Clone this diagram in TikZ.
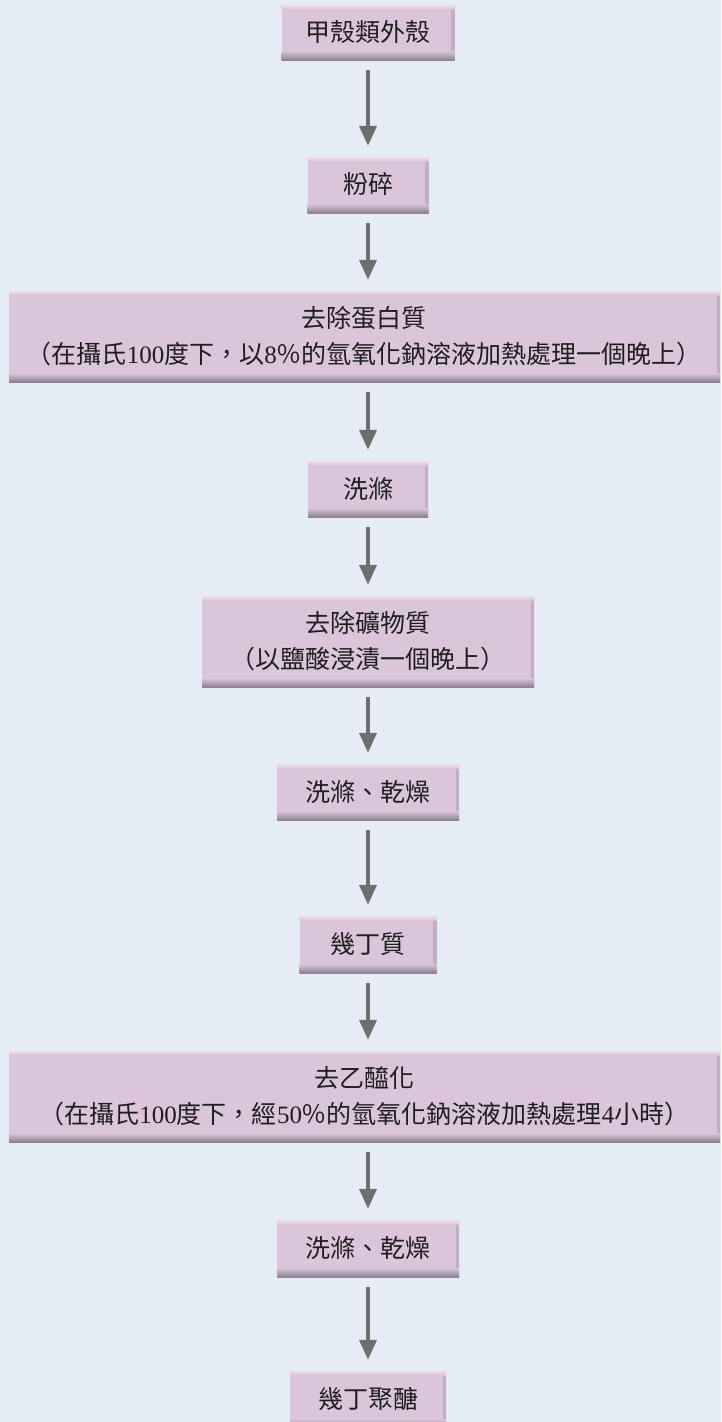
\documentclass[tikz,border=0pt]{standalone}
\usepackage{fontspec}
\setmainfont{Liberation Serif}
\newfontfamily\cjk{Noto Sans CJK TC}
\usetikzlibrary{arrows.meta}
\definecolor{bg}{HTML}{E6ECF5}
\definecolor{boxfill}{HTML}{DBC5DB}
\definecolor{boxshade}{HTML}{8E8292}
\definecolor{boxlight}{HTML}{EEE5EF}
\definecolor{arrowgray}{HTML}{6E6E6E}
\definecolor{txt}{HTML}{1E1E1E}
\newcommand{\lat}[1]{{\rmfamily #1}}
\tikzset{
  stepbox/.style={fill=boxfill, inner sep=0pt, align=center, text=txt,
    font=\cjk\fontsize{25}{36}\selectfont,
    path picture={
      \shade[left color=boxfill, right color=boxshade!35!boxfill]
        ([xshift=-3pt]path picture bounding box.north east) rectangle (path picture bounding box.south east);
      \shade[top color=boxlight, bottom color=boxfill]
        (path picture bounding box.north west) rectangle ([yshift=-5pt]path picture bounding box.north east);
      \shade[top color=boxfill, bottom color=boxshade]
        ([yshift=9pt]path picture bounding box.south west) rectangle (path picture bounding box.south east);
    }},
  flow/.style={draw=arrowgray, line width=4pt, -{Triangle[width=17pt,length=20pt]},
    shorten <=10pt, shorten >=10pt}
}
\begin{document}
\begin{tikzpicture}[x=1pt,y=-1pt]
\useasboundingbox (0,0) rectangle (721,1422);
\fill[bg] (0,0) rectangle (721,1422);
\node[stepbox, minimum width=173pt, minimum height=56pt] (b1) at (368,32) {甲殼類外殼};
\node[stepbox, minimum width=121pt, minimum height=57pt] (b2) at (368,184.5) {粉碎};
\node[stepbox, minimum width=711pt, minimum height=92pt] (b3) at (364.5,336) {去除蛋白質\\（在攝氏\lat{100}度下，以\lat{8}％的氫氧化鈉溶液加熱處理一個晚上）};
\node[stepbox, minimum width=120pt, minimum height=57pt] (b4) at (368,488.5) {洗滌};
\node[stepbox, minimum width=332pt, minimum height=92pt] (b5) at (368,641) {去除礦物質\\（以鹽酸浸漬一個晚上）};
\node[stepbox, minimum width=182pt, minimum height=57pt] (b6) at (368,791.5) {洗滌、乾燥};
\node[stepbox, minimum width=137pt, minimum height=58pt] (b7) at (368,944) {幾丁質};
\node[stepbox, minimum width=711pt, minimum height=92pt] (b8) at (364.5,1096) {去乙醯化\\（在攝氏\lat{100}度下，經\lat{50}％的氫氧化鈉溶液加熱處理\lat{4}小時）};
\node[stepbox, minimum width=182pt, minimum height=58pt] (b9) at (368,1248) {洗滌、乾燥};
\node[stepbox, minimum width=156pt, minimum height=58pt] (b10) at (368,1399) {幾丁聚醣};
\draw[flow] (b1.south) -- (b2.north);
\draw[flow] (b2.south) -- (b2.south |- b3.north);
\draw[flow] (b3.south -| b4.north) -- (b4.north);
\draw[flow] (b4.south) -- (b5.north);
\draw[flow] (b5.south) -- (b6.north);
\draw[flow] (b6.south) -- (b7.north);
\draw[flow] (b7.south) -- (b7.south |- b8.north);
\draw[flow] (b8.south -| b9.north) -- (b9.north);
\draw[flow] (b9.south) -- (b10.north);
\end{tikzpicture}
\end{document}
